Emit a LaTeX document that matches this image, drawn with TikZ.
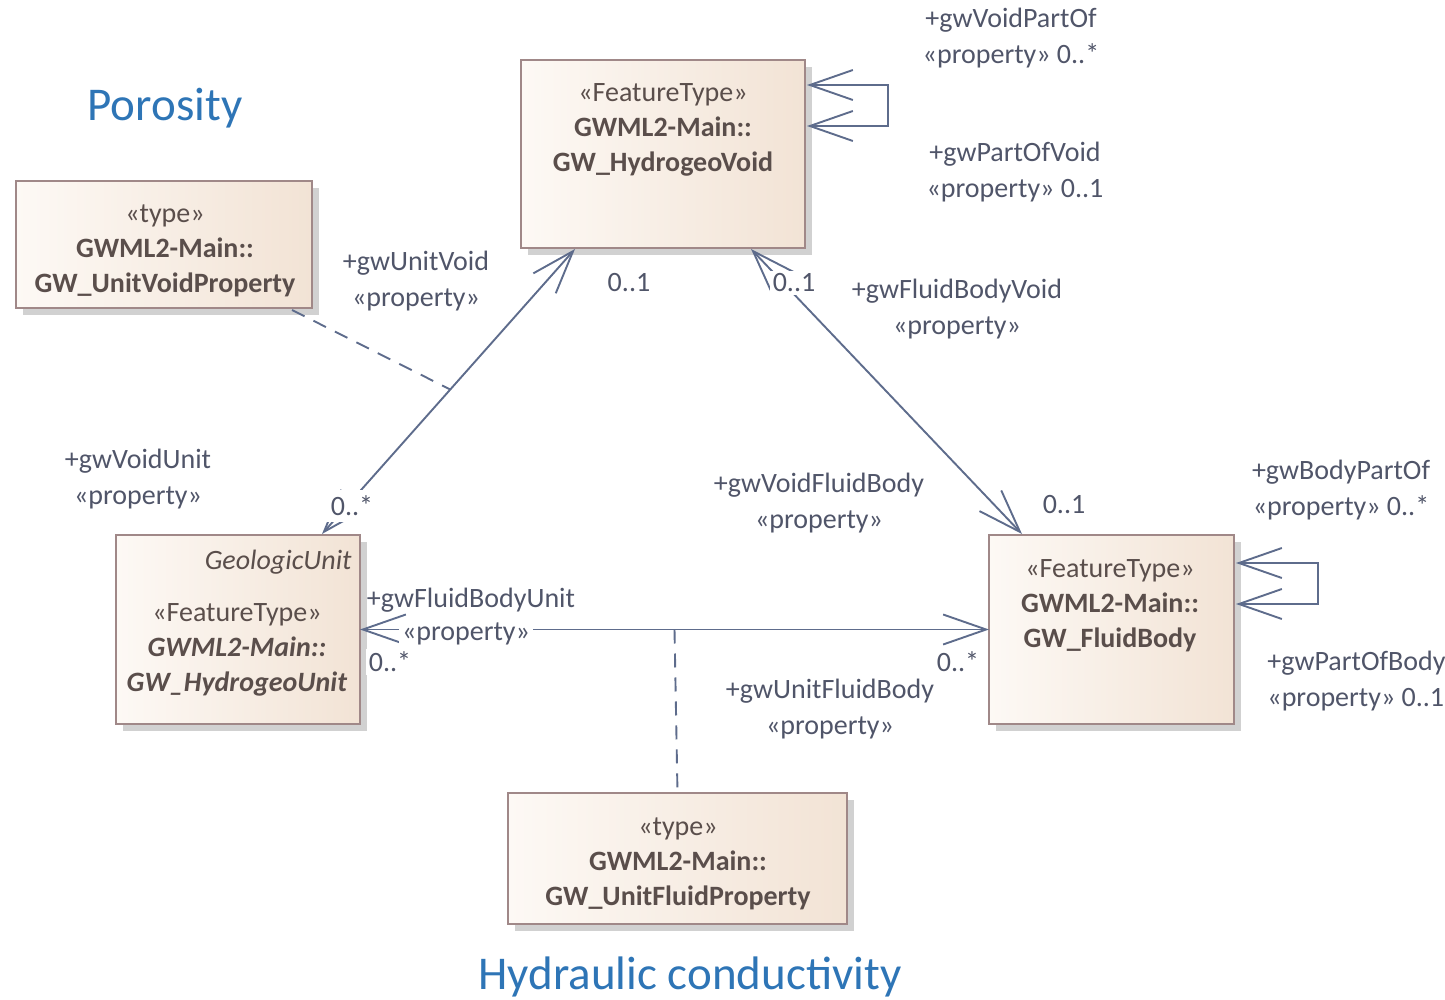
\documentclass[tikz,border=0pt]{standalone}
\usepackage{fontspec}
\setmainfont{Carlito}
\usetikzlibrary{arrows.meta,shadows,calc}
\definecolor{titleblue}{HTML}{2E75B6}
\definecolor{labelc}{HTML}{505569}
\definecolor{boxtextc}{HTML}{5A4E4B}
\definecolor{linec}{HTML}{5E6C8C}
\definecolor{boxline}{HTML}{A08888}
\definecolor{boxL}{HTML}{FDF9F5}
\definecolor{boxR}{HTML}{F2E3D5}
\begin{document}
\begin{tikzpicture}[x=0.5pt,y=-0.5pt,
  cls/.style={draw=boxline, line width=1pt, left color=boxL, right color=boxR,
    drop shadow={shadow xshift=3.5pt, shadow yshift=-3.5pt, fill=black!18, opacity=1},
    inner sep=0pt, outer sep=0pt},
  ctext/.style={font=\fontsize{14}{17.5}\selectfont, text=boxtextc, align=center, inner sep=0pt},
  lbl/.style={font=\fontsize{14}{18}\selectfont, text=labelc, align=center, inner sep=0pt},
  mult/.style={lbl, fill=white, inner sep=1.5pt},
  title/.style={font=\fontsize{23.5}{28}\selectfont, text=titleblue, inner sep=0pt},
  barb/.tip={Straight Barb[length=21.5pt,width=15pt,line join=miter]},
  assoc/.style={draw=linec, line width=0.95pt, barb-barb},
  dep/.style={draw=linec, line width=0.95pt, dash pattern=on 7pt off 5pt}
]
\useasboundingbox (0,0) rectangle (1445,1000);

% classes
\node[cls, minimum width=142pt, minimum height=94pt] (void) at (663,154) {};
\node[cls, minimum width=148pt, minimum height=63.5pt] (uvp) at (164,244.5) {};
\node[cls, minimum width=122pt, minimum height=94.5pt] (unit) at (238,629.5) {};
\node[cls, minimum width=122.5pt, minimum height=94.5pt] (fluid) at (1111.5,629.5) {};
\node[cls, minimum width=169.5pt, minimum height=65.5pt] (ufp) at (677.5,858.5) {};

% class texts
\node[ctext] (voidT) at (663,130) {«FeatureType»\\\textbf{GWML2-Main::}\\\textbf{GW\_HydrogeoVoid}};
\node[ctext] (uvpT) at (165,251) {«type»\\\textbf{GWML2-Main::}\\\textbf{GW\_UnitVoidProperty}};
\node[ctext, anchor=east] (unitG) at (352,562) {\itshape GeologicUnit};
\node[ctext] (unitT) at (237,650) {«FeatureType»\\\textbf{\itshape GWML2-Main::}\\\textbf{\itshape GW\_HydrogeoUnit}};
\node[ctext] (fluidT) at (1110,606) {«FeatureType»\\\textbf{GWML2-Main::}\\\textbf{GW\_FluidBody}};
\node[ctext] (ufpT) at (678,864) {«type»\\\textbf{GWML2-Main::}\\\textbf{GW\_UnitFluidProperty}};

% titles
\node[title] (poro) at (165,108) {Porosity};
\node[title] (hydc) at (690,977) {Hydraulic conductivity};

% connector end points
\coordinate (vuA) at ($(void.south west)+(54,1)$);
\coordinate (vuB) at ($(unit.north west)+(206,-1)$);
\coordinate (vfA) at ($(void.south east)+(-54,1)$);
\coordinate (vfB) at ($(fluid.north west)+(33,-1)$);
\coordinate (vl1) at ($(void.north east)+(2,25)$);
\coordinate (vl2) at ($(void.north east)+(2,66)$);
\coordinate (fl1) at ($(fluid.north east)+(2,28)$);
\coordinate (fl2) at ($(fluid.north east)+(2,69)$);

% associations
\draw[assoc] (vuA) -- (vuB) coordinate[pos=0.493] (vuMid);
\draw[assoc] (vfA) -- (vfB);
\draw[assoc] (unit.east) -- (fluid.west) coordinate[pos=0.5] (ufMid);
\draw[assoc] (vl1) -- ++(81,0) -- ++(0,41) -- (vl2);
\draw[assoc] (fl1) -- ++(82,0) -- ++(0,41) -- (fl2);

% association classes
\draw[dep] ($(uvp.south east)+(-20,2)$) -- (vuMid);
\draw[dep] (ufMid) -- (ufp.north);

% role labels
\node[lbl] (l1) at (1011,38) {+gwVoidPartOf\\«property» 0..*};
\node[lbl] (l2) at (1015,172) {+gwPartOfVoid\\«property» 0..1};
\node[lbl] (l3) at (416,281) {+gwUnitVoid\\«property»};
\node[mult] (m1) at (629,283) {0..1};
\node[mult] (m2) at (794,283) {0..1};
\node[lbl] (l4) at (957,309) {+gwFluidBodyVoid\\«property»};
\node[lbl] (l5) at (138,479) {+gwVoidUnit\\«property»};
\node[mult, inner sep=3pt] (m3) at (352,506) {0..*};
\node[lbl] (l6) at (819,503) {+gwVoidFluidBody\\«property»};
\node[mult] (m4) at (1064,505) {0..1};
\node[lbl] (l7) at (1341,490) {+gwBodyPartOf\\«property» 0..*};
\node[lbl, align=left, anchor=west] (l8) at (1267,681) {+gwPartOfBody\\«property» 0..1};
\node[lbl] (l9) at (471,600) {+gwFluidBodyUnit};
\node[mult] (l9b) at (466,634) {«property»};
\node[mult] (m5) at (390,662) {0..*};
\node[mult] (m6) at (958,662) {0..*};
\node[lbl] (l10) at (830,709) {+gwUnitFluidBody\\«property»};
\end{tikzpicture}
\end{document}
